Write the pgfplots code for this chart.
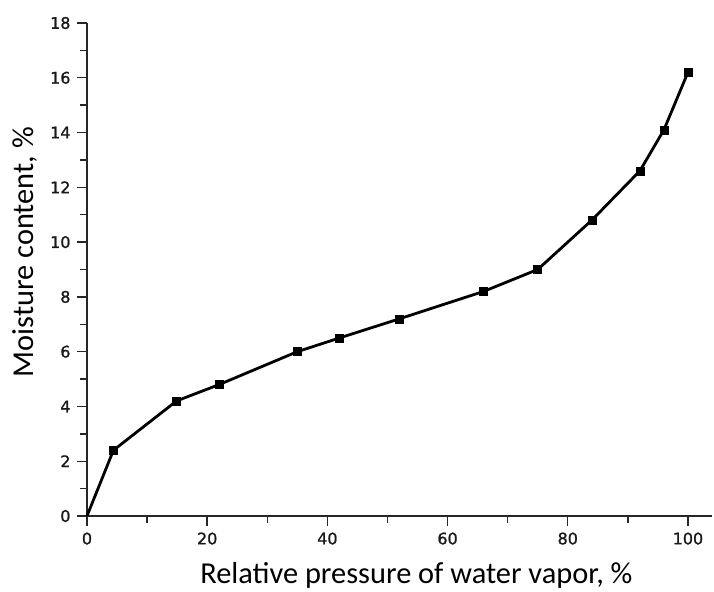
\documentclass[border=0pt]{standalone}
\usepackage{fontspec}
\setmainfont{Liberation Sans}
\newfontfamily\carlito{Carlito}
\newfontfamily\dejavu[FakeBold=1.2]{DejaVu Sans}
\usepackage{pgfplots}
\pgfplotsset{compat=1.18}
\begin{document}
\begin{tikzpicture}
\begin{axis}[name=ax, scale only axis, width=625bp, height=493bp,
  xmin=0, xmax=104, ymin=0, ymax=18,
  axis lines=left, axis line style={-, line width=1.6bp, black!85},
  xtick={0,20,...,100}, ytick={0,2,...,18},
  minor xtick={10,30,...,90}, minor ytick={1,3,...,17},
  tick align=outside, major tick length=10bp, minor tick length=7bp,
  every tick/.style={line width=1.4bp, black!85},
  tick label style={font=\dejavu\fontsize{16}{16}\selectfont, text=black!90},
  xticklabel style={yshift=-3bp},
  yticklabel style={xshift=-3bp},
  /pgf/number format/assume math mode=true,
  xlabel={Relative pressure of water vapor, \%},
  ylabel={Moisture content, \%},
  label style={font=\carlito\fontsize{30.5}{30.5}\selectfont},
  xlabel style={at={(axis description cs:0.527,-0.12)}, anchor=center},
  ylabel style={at={(axis description cs:-0.099,0.535)}, anchor=center},
  clip=false]
\addplot[black, line width=2.8bp, mark=square*, mark size=4bp, mark indices={2,...,13}, mark options={line width=0.5bp, solid}] coordinates {
(0,0) (4.4,2.4) (14.9,4.2) (22,4.8) (35,6.0) (42,6.5) (52,7.2) (66,8.2) (75,9.0) (84,10.8) (92,12.6) (96,14.1) (100,16.2)
};
\end{axis}
\pgfresetboundingbox
\path ([shift={(-87bp,-76bp)}]ax.south west) rectangle ([shift={(2bp,23bp)}]ax.north east);
\end{tikzpicture}
\end{document}
